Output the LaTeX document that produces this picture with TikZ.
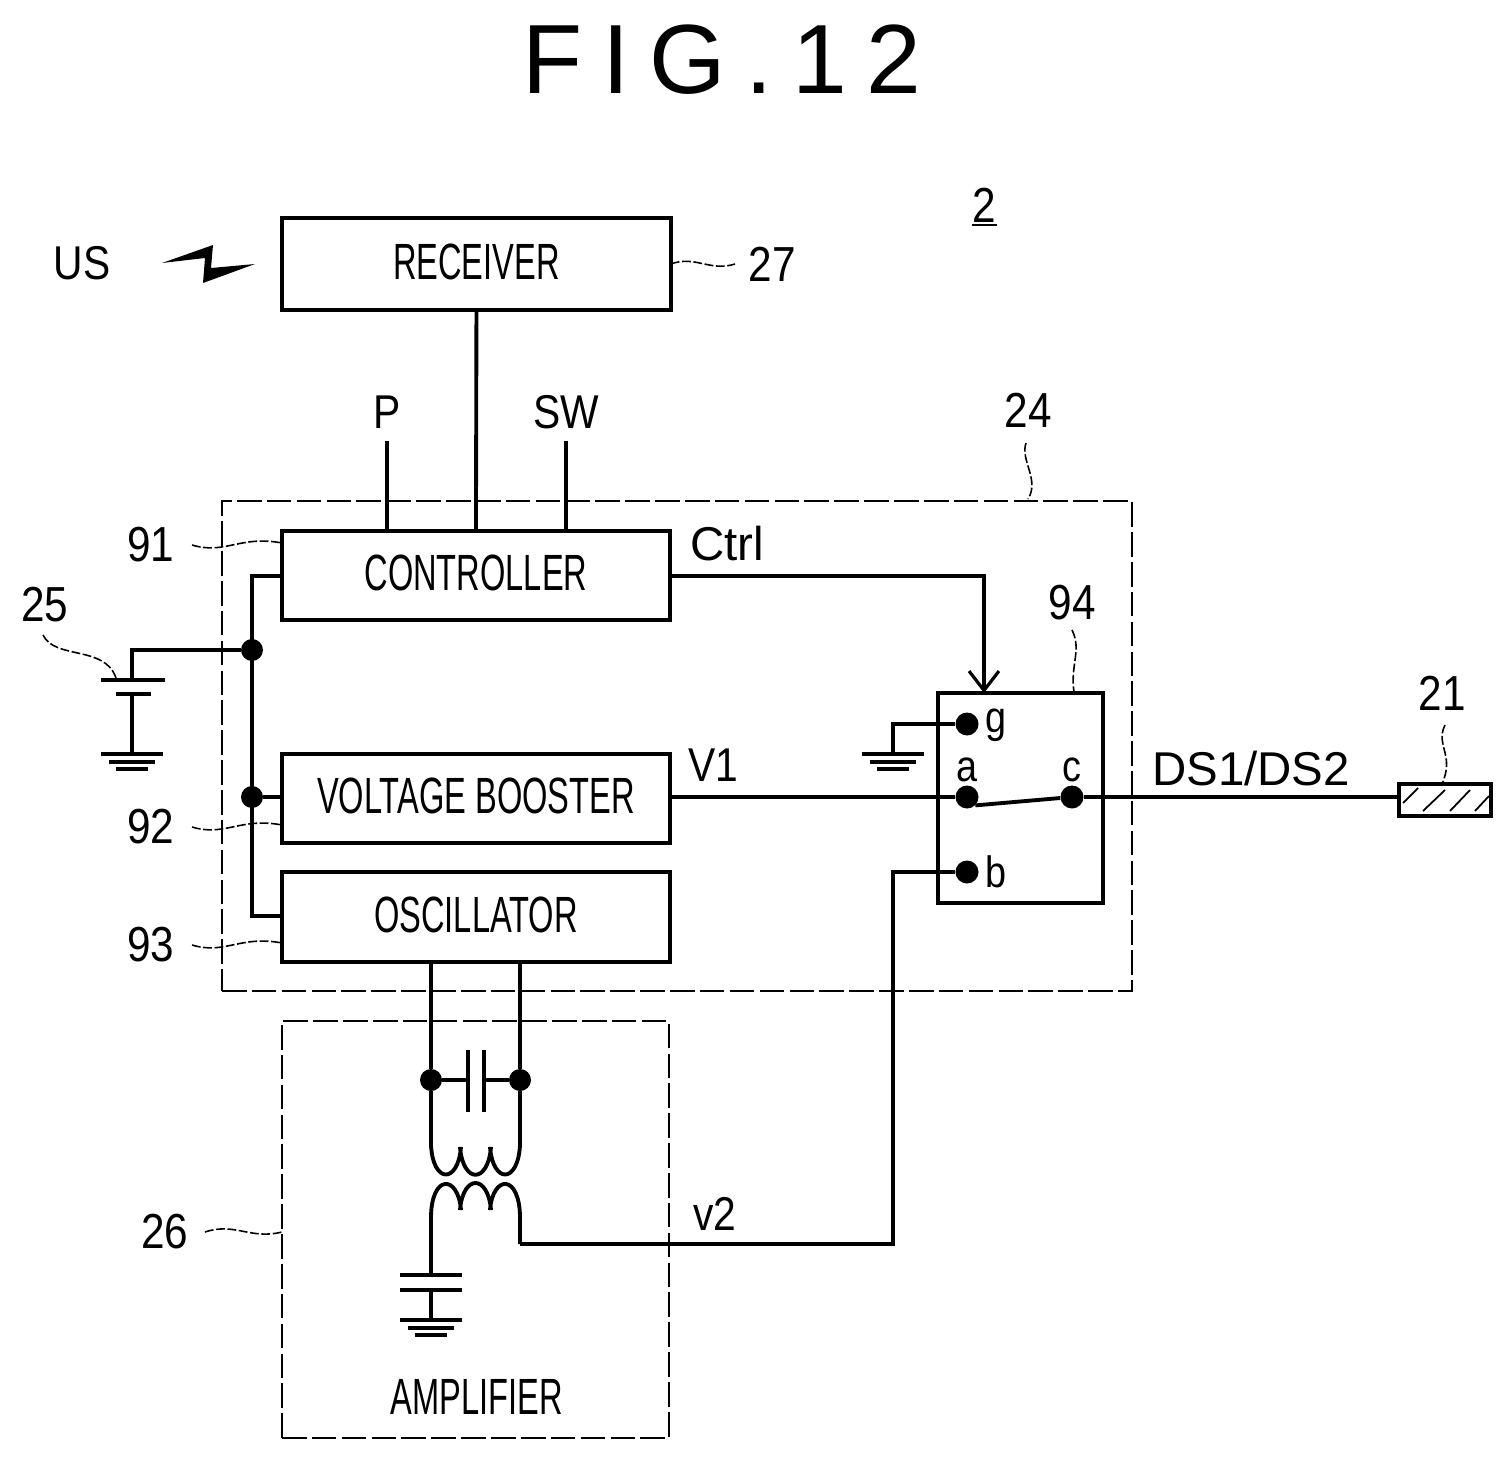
\documentclass[tikz,border=0pt]{standalone}
\usepackage{fontspec}
\setmainfont{Liberation Sans}
\newfontfamily\narrowfont[FakeStretch=0.64]{Liberation Sans}
\newfontfamily\midfont[FakeStretch=0.86]{Liberation Sans}
\newfontfamily\titlefont[LetterSpace=20]{Liberation Sans}
\usetikzlibrary{arrows.meta, calc}
\tikzset{
    wire/.style={line width=2.2pt, line join=miter},
    leader/.style={line width=0.9pt, dash pattern=on 5pt off 1.5pt},
    hatch/.style={line width=1pt},
    frame/.style={line width=1.3pt, dash pattern=on 14pt off 3pt, outer sep=0pt},
    blockbox/.style={draw, rectangle, line width=2.2pt, font=\fontsize{29}{29}\narrowfont, anchor=north west, inner sep=0pt, outer sep=0pt, text depth=3pt},
    junction/.style={circle, fill=black, draw=none, minimum size=0.44cm, inner sep=0pt},
    refnum/.style={font=\fontsize{28}{28}\midfont, inner sep=0pt},
    siglabel/.style={font=\fontsize{27}{27}\selectfont, inner sep=0pt},
    midlabel/.style={font=\fontsize{27}{27}\midfont, inner sep=0pt},
    pinlabel/.style={font=\fontsize{25}{25}\midfont, inner sep=0pt}
}
\newcommand{\groundsym}[1]{%
    \draw[wire] ($(#1)+(-31,0)$) -- ($(#1)+(31,0)$);
    \draw[wire] ($(#1)+(-23,8)$) -- ($(#1)+(23,8)$);
    \draw[wire] ($(#1)+(-16,15)$) -- ($(#1)+(16,15)$);
}
\begin{document}
\begin{tikzpicture}[x=0.02cm, y=-0.02cm]
    \useasboundingbox (0,0) rectangle (1512,1460);

    % Titre
    \node[font=\fontsize{56}{56}\titlefont, inner sep=0pt] (title) at (722,60) {FIG.12};
    \node[refnum] (ref2) at (984,205) {2};
    \draw[line width=1pt] (972,225) -- (997,225);

    % Blocs
    \node[blockbox, minimum width=7.78cm, minimum height=1.84cm] (receiver) at (282,218) {RECEIVER};
    \node[blockbox, minimum width=7.76cm, minimum height=1.78cm] (controller) at (282,531) {CONTROLLER};
    \node[blockbox, minimum width=7.76cm, minimum height=1.78cm] (booster) at (282,754) {VOLTAGE BOOSTER};
    \node[blockbox, minimum width=7.76cm, minimum height=1.80cm] (oscillator) at (282,872) {OSCILLATOR};
    \node[draw, line width=2.2pt, anchor=north west, minimum width=3.30cm, minimum height=4.20cm, inner sep=0pt, outer sep=0pt] (switch) at (938,693) {};
    \node[draw, line width=2.2pt, anchor=north west, minimum width=1.84cm, minimum height=0.64cm, inner sep=0pt, outer sep=0pt] (load) at (1399,784) {};
    \draw[hatch] (1403,803) -- (1418,788);
    \draw[hatch] (1423,811) -- (1445,790);
    \draw[hatch] (1450,811) -- (1470,790);
    \draw[hatch] (1475,811) -- (1489,796);

    % Cadres en tirets
    \node[draw, frame, anchor=north west, minimum width=18.2cm, minimum height=9.8cm, inner sep=0pt] (frame24) at (222,501) {};
    \node[draw, frame, anchor=north west, minimum width=7.74cm, minimum height=8.34cm, inner sep=0pt] (amp) at (282,1021) {};
    \node[font=\fontsize{29}{29}\narrowfont, inner sep=0pt] (amplabel) at (477,1397) {AMPLIFIER};

    % Points de connexion
    \node[junction] (j1) at (252,650) {};
    \node[junction] (j2) at (252,797) {};
    \node[junction, minimum size=0.46cm] (pg) at (967,724) {};
    \node[junction, minimum size=0.46cm] (pa) at (967,797) {};
    \node[junction, minimum size=0.46cm] (pc) at (1072,797) {};
    \node[junction, minimum size=0.46cm] (pb) at (967,872) {};
    \node[junction] (k1) at (431,1080) {};
    \node[junction] (k2) at (520,1080) {};

    % Alimentation 25
    \coordinate (c1) at (132,650);
    \coordinate (c2) at (132,680);
    \coordinate (c3) at (132,694);
    \coordinate (c4) at (132,754);
    \draw[wire] (j1) -- (c1) -- (c2);
    \draw[wire] (101,680) -- (165,680);
    \draw[wire] (116,694) -- (151,694);
    \draw[wire] (c3) -- (c4);
    \groundsym{c4}

    % Liaisons des blocs
    \coordinate (rail1) at (252,576);
    \coordinate (rail2) at (252,916);
    \coordinate (inP) at (387,441);
    \coordinate (inSW) at (566,441);
    \draw[wire] (controller.west |- rail1) -- (rail1) -- (rail2) -- (oscillator.west |- rail2);
    \draw[wire] (j2) -- (booster.west |- j2);
    \draw[wire] (receiver.south) -- (controller.north);
    \draw[wire] (inP) -- (inP |- controller.north);
    \draw[wire] (inSW) -- (inSW |- controller.north);

    % Ctrl et commutateur
    \coordinate (ctrlturn) at (984,576);
    \draw[wire, -{Straight Barb[length=11pt, width=17pt, line width=1.8pt]}] (controller.east |- ctrlturn) -- (ctrlturn) -- (ctrlturn |- switch.north);
    \draw[wire] (booster.east |- pa) -- (pa);
    \draw[wire] (pa.south east) -- (pc);
    \draw[wire] (pc) -- (load.west |- pc);

    % Masse du commutateur
    \coordinate (g1) at (893,724);
    \coordinate (g2) at (893,754);
    \draw[wire] (pg) -- (g1) -- (g2);
    \groundsym{g2}

    % Amplificateur
    \coordinate (osc1) at (431,962);
    \coordinate (osc2) at (520,962);
    \coordinate (prim1) at (431,1145);
    \coordinate (prim2) at (520,1145);
    \draw[wire] (osc1) -- (k1) -- (prim1);
    \draw[wire] (osc2) -- (k2) -- (prim2);
    \draw[wire] (k1) -- (468,1080);
    \draw[wire] (k2) -- (484,1080);
    \draw[wire] (468,1050) -- (468,1112);
    \draw[wire] (484,1050) -- (484,1112);
    \draw[wire] (prim1) .. controls (433,1184) and (458,1184) .. (461,1147)
        (460,1147) .. controls (463,1184) and (488,1184) .. (491,1147)
        (490,1147) .. controls (493,1184) and (518,1184) .. (prim2);
    \coordinate (sec1) at (431,1275);
    \coordinate (sec2) at (520,1244);
    \draw[wire] (sec1) -- (431,1218) .. controls (431,1174) and (458,1174) .. (461,1210)
        (460,1210) .. controls (463,1174) and (488,1174) .. (491,1210)
        (490,1210) .. controls (493,1174) and (520,1174) .. (520,1218) -- (sec2);
    \draw[wire] (400,1275) -- (462,1275);
    \draw[wire] (400,1290) -- (462,1290);
    \coordinate (ampgnd) at (431,1320);
    \draw[wire] (431,1290) -- (ampgnd);
    \groundsym{ampgnd}

    % Sortie v2
    \coordinate (v2a) at (893,1244);
    \coordinate (v2b) at (893,872);
    \draw[wire] (sec2) -- (v2a) -- (v2b) -- (pb);

    % Signal US
    \node[midlabel] (us) at (82,263) {US};
    \fill (162,263) -- (213,245) -- (211,268) -- (255,264) -- (203,283) -- (205,258) -- cycle;

    % Textes
    \node[midlabel] (lP) at (387,412) {P};
    \node[midlabel] (lSW) at (566,412) {SW};
    \node[siglabel] (lCtrl) at (727,544) {Ctrl};
    \node[midlabel] (lV1) at (713,765) {V1};
    \node[siglabel] (lDS) at (1251,769) {DS1/DS2};
    \node[midlabel] (lv2) at (715,1214) {v2};
    \node[pinlabel] (lg) at (996,725) {g};
    \node[pinlabel] (la) at (967,770) {a};
    \node[pinlabel] (lc) at (1072,770) {c};
    \node[pinlabel] (lb) at (996,872) {b};

    % Repères
    \node[refnum] (r27) at (772,264) {27};
    \node[refnum] (r24) at (1028,410) {24};
    \node[refnum] (r91) at (151,545) {91};
    \node[refnum] (r92) at (151,827) {92};
    \node[refnum] (r93) at (151,945) {93};
    \node[refnum] (r25) at (45,605) {25};
    \node[refnum] (r26) at (165,1232) {26};
    \node[refnum] (r94) at (1072,603) {94};
    \node[refnum] (r21) at (1442,693) {21};

    \draw[leader] (receiver.east |- r27) .. controls (695,255) and (710,272) .. (735,264);
    \draw[leader] (192,545) .. controls (225,555) and (240,535) .. (282,543);
    \draw[leader] (192,827) .. controls (225,837) and (240,817) .. (282,825);
    \draw[leader] (192,945) .. controls (225,955) and (240,935) .. (282,943);
    \draw[leader] (205,1232) .. controls (235,1222) and (250,1240) .. (amp.west |- r26);
    \draw[leader] (43,635) .. controls (55,660) and (105,645) .. (116,678);
    \draw[leader] (1072,630) .. controls (1082,650) and (1070,665) .. (1074,692);
    \draw[leader] (1445,725) .. controls (1435,745) and (1455,755) .. (load.north -| r21);
    \draw[leader] (1026,443) .. controls (1020,460) and (1040,480) .. (1028,499);
\end{tikzpicture}
\end{document}
